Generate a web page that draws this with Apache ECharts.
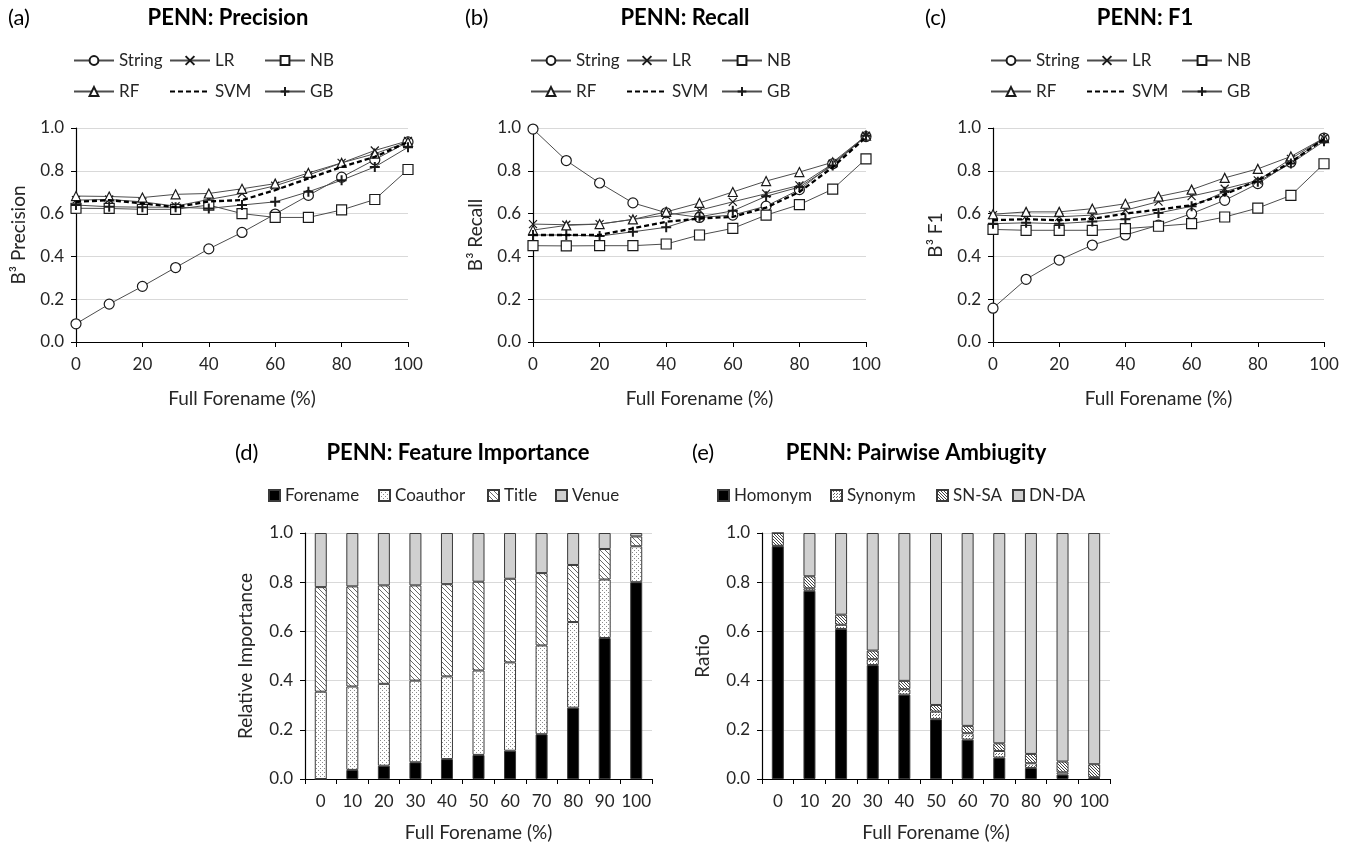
<!DOCTYPE html>
<html>
<head>
<meta charset="utf-8">
<script src="https://cdn.jsdelivr.net/npm/echarts@6/dist/echarts.min.js"></script>
<style>
  html, body { margin: 0; padding: 0; background: #fff; }
  #main { width: 1351px; height: 846px; }
</style>
</head>
<body>
<div id="main"></div>
<script>
  // x values (Full Forename %)
  var xPct = [0, 10, 20, 30, 40, 50, 60, 70, 80, 90, 100]
  var pctLabels = ['0', '10', '20', '30', '40', '50', '60', '70', '80', '90', '100']

  // (a) precision
  var precString = [0.085, 0.177, 0.26, 0.348, 0.435, 0.512, 0.598, 0.685, 0.77, 0.852, 0.935]
  var precLR = [0.663, 0.666, 0.655, 0.635, 0.666, 0.694, 0.73, 0.78, 0.837, 0.895, 0.94]
  var precNB = [0.625, 0.624, 0.62, 0.62, 0.64, 0.6, 0.582, 0.582, 0.617, 0.666, 0.806]
  var precRF = [0.682, 0.68, 0.675, 0.69, 0.694, 0.716, 0.74, 0.79, 0.837, 0.88, 0.935]
  var precSVM = [0.655, 0.663, 0.648, 0.63, 0.657, 0.663, 0.71, 0.764, 0.818, 0.865, 0.935]
  var precGB = [0.64, 0.632, 0.63, 0.63, 0.624, 0.64, 0.655, 0.702, 0.756, 0.818, 0.91]

  // (b) recall
  var recString = [0.995, 0.848, 0.743, 0.65, 0.604, 0.582, 0.593, 0.635, 0.712, 0.833, 0.96]
  var recLR = [0.551, 0.548, 0.551, 0.573, 0.593, 0.616, 0.655, 0.693, 0.732, 0.833, 0.964]
  var recNB = [0.45, 0.449, 0.45, 0.45, 0.458, 0.5, 0.531, 0.593, 0.642, 0.714, 0.856]
  var recRF = [0.523, 0.545, 0.551, 0.573, 0.608, 0.65, 0.701, 0.752, 0.794, 0.84, 0.964]
  var recSVM = [0.5, 0.5, 0.5, 0.531, 0.562, 0.577, 0.585, 0.628, 0.701, 0.817, 0.957]
  var recGB = [0.5, 0.5, 0.495, 0.515, 0.536, 0.585, 0.613, 0.681, 0.724, 0.825, 0.964]

  // (c) F1
  var f1String = [0.158, 0.293, 0.383, 0.453, 0.5, 0.546, 0.6, 0.662, 0.74, 0.84, 0.953]
  var f1LR = [0.593, 0.588, 0.585, 0.593, 0.616, 0.656, 0.682, 0.716, 0.755, 0.856, 0.953]
  var f1NB = [0.526, 0.522, 0.522, 0.522, 0.53, 0.541, 0.553, 0.584, 0.626, 0.685, 0.833]
  var f1RF = [0.597, 0.608, 0.608, 0.623, 0.646, 0.68, 0.712, 0.767, 0.809, 0.867, 0.953]
  var f1SVM = [0.569, 0.574, 0.569, 0.575, 0.6, 0.619, 0.639, 0.69, 0.755, 0.84, 0.949]
  var f1GB = [0.553, 0.557, 0.553, 0.563, 0.574, 0.603, 0.634, 0.702, 0.749, 0.834, 0.938]

  // (d) feature importance (stacked)
  var fiForename = [0, 0.037, 0.054, 0.068, 0.081, 0.098, 0.115, 0.182, 0.29, 0.573, 0.8]
  var fiCoauthor = [0.355, 0.339, 0.333, 0.332, 0.336, 0.343, 0.359, 0.361, 0.348, 0.238, 0.146]
  var fiTitle = [0.425, 0.407, 0.4, 0.387, 0.375, 0.361, 0.34, 0.294, 0.232, 0.124, 0.04]
  var fiVenue = [0.22, 0.217, 0.213, 0.213, 0.208, 0.198, 0.186, 0.163, 0.13, 0.065, 0.014]

  // (e) pairwise ambiguity (stacked)
  var paHomonym = [0.946, 0.765, 0.61, 0.463, 0.343, 0.243, 0.16, 0.087, 0.045, 0.018, 0.003]
  var paSynonym = [0.002, 0.01, 0.017, 0.024, 0.022, 0.031, 0.026, 0.027, 0.019, 0.009, 0.004]
  var paSNSA = [0.052, 0.049, 0.041, 0.035, 0.034, 0.027, 0.03, 0.031, 0.038, 0.044, 0.053]
  var paDNDA = [0, 0.176, 0.332, 0.478, 0.601, 0.699, 0.784, 0.855, 0.898, 0.929, 0.94]

  var FONT = 'Lato, "Open Sans", sans-serif'
  var TXT = '#262626'

  function pattern(size, draw) {
    var c = document.createElement('canvas')
    c.width = size
    c.height = size
    var g = c.getContext('2d')
    g.fillStyle = '#fff'
    g.fillRect(0, 0, size, size)
    draw(g)
    return { image: c, repeat: 'repeat' }
  }
  var dotFill = pattern(4, function (g) {
    g.fillStyle = '#8a8a8a'
    g.fillRect(0, 0, 1, 1)
    g.fillRect(2, 2, 1, 1)
  })
  var dotFillDark = pattern(3, function (g) {
    g.fillStyle = '#666'
    g.fillRect(0, 0, 1, 1)
    g.fillRect(2, 1, 1, 1)
  })
  var hatchFill = pattern(5, function (g) {
    g.fillStyle = '#6a6a6a'
    for (var i = 0; i < 5; i++) g.fillRect(i, i, 1, 1)
  })
  var hatchFillDense = pattern(3, function (g) {
    g.fillStyle = '#444'
    for (var i = 0; i < 3; i++) g.fillRect(i, i, 1, 1)
  })

  function pairs(vals) {
    return xPct.map(function (x, i) { return [x, vals[i]] })
  }

  var methods = [
    { name: 'String', symbol: 'circle', size: 10 },
    { name: 'LR', symbol: 'path://M0,0L10,10M10,0L0,10', size: 8 },
    { name: 'NB', symbol: 'rect', size: 10 },
    { name: 'RF', symbol: 'triangle', size: 9 },
    { name: 'SVM', symbol: 'none', size: 0 },
    { name: 'GB', symbol: 'path://M5,0L5,10M0,5L10,5', size: 10 }
  ]

  var panels = [
    { tag: '(a)', title: 'PENN: Precision', yName: 'B³ Precision', left: 76, width: 332,
      data: [precString, precLR, precNB, precRF, precSVM, precGB] },
    { tag: '(b)', title: 'PENN: Recall', yName: 'B³ Recall', left: 533, width: 333,
      data: [recString, recLR, recNB, recRF, recSVM, recGB] },
    { tag: '(c)', title: 'PENN: F1', yName: 'B³ F1', left: 993, width: 331,
      data: [f1String, f1LR, f1NB, f1RF, f1SVM, f1GB] }
  ]

  var chart = echarts.init(document.getElementById('main'))

  var grids = [], xAxes = [], yAxes = [], series = [], legends = [], graphics = []

  function yAxisCfg(idx, name, gap) {
    return {
      gridIndex: idx,
      type: 'value',
      min: 0,
      max: 1,
      interval: 0.2,
      name: name,
      nameLocation: 'middle',
      nameGap: gap,
      nameTextStyle: { fontFamily: FONT, fontSize: 19, color: TXT },
      axisLine: { show: true, lineStyle: { color: '#000', width: 1.2 } },
      axisTick: { show: true, length: 5, lineStyle: { color: '#000' } },
      axisLabel: {
        margin: 12, fontFamily: FONT, fontSize: 17, color: TXT,
        formatter: function (v) { return v.toFixed(1) }
      },
      splitLine: { show: true, lineStyle: { color: '#d9d9d9', width: 1.2 } }
    }
  }

  function addText(x, y, text, bold, size, align) {
    graphics.push({
      type: 'text',
      x: x,
      y: y,
      style: {
        text: text,
        font: (bold ? 'bold ' : '') + size + 'px ' + FONT,
        fill: '#000',
        align: align,
        textAlign: align,
        verticalAlign: 'middle',
        textVerticalAlign: 'middle'
      }
    })
  }

  var legendCols = [-3, 93, 188]
  var legendRows = [52, 83]

  panels.forEach(function (p, pi) {
    grids.push({ left: p.left, width: p.width, top: 128, height: 214 })
    xAxes.push({
      gridIndex: pi,
      type: 'value',
      min: 0,
      max: 100,
      interval: 20,
      name: 'Full Forename (%)',
      nameLocation: 'middle',
      nameGap: 47,
      nameTextStyle: { fontFamily: FONT, fontSize: 19, color: TXT },
      axisLine: { show: true, onZero: false, lineStyle: { color: '#000', width: 1.2 } },
      axisTick: { show: true, length: 5, lineStyle: { color: '#000' } },
      axisLabel: { margin: 14, fontFamily: FONT, fontSize: 17, color: TXT },
      splitLine: { show: false }
    })
    yAxes.push(yAxisCfg(pi, p.yName, 48))

    methods.forEach(function (m, mi) {
      var isSvm = m.name === 'SVM'
      var isGb = m.name === 'GB'
      series.push({
        name: m.name,
        type: 'line',
        xAxisIndex: pi,
        yAxisIndex: pi,
        data: pairs(p.data[mi]),
        symbol: m.symbol,
        symbolSize: m.size,
        showAllSymbol: true,
        z: isSvm ? 3 : 2,
        lineStyle: isSvm
          ? { color: '#000', width: 2.3, type: [5, 3] }
          : { color: '#4d4d4d', width: 1 },
        itemStyle: {
          color: '#fff',
          borderColor: '#1a1a1a',
          borderWidth: isGb ? 2 : 1.2
        },
        emphasis: { disabled: true },
        animation: false
      })
      // SVM has no marker: hide the legend's fallback symbol
      var item = isSvm ? { name: m.name, itemStyle: { opacity: 0 } } : { name: m.name }
      legends.push({
        data: [item],
        left: p.left + legendCols[mi % 3],
        top: legendRows[Math.floor(mi / 3)],
        padding: 0,
        itemWidth: 40,
        itemHeight: 11,
        itemGap: 0,
        selectedMode: false,
        textStyle: { fontFamily: FONT, fontSize: 17, color: TXT }
      })
    })

    addText(p.left - 68, 18, p.tag, false, 22, 'left')
    addText(p.left + 152, 18, p.title, true, 22, 'center')
  })

  var barPanels = [
    { tag: '(d)', title: 'PENN: Feature Importance', yName: 'Relative Importance', left: 305, width: 347,
      titleX: 458, stack: 'fi',
      names: ['Forename', 'Coauthor', 'Title', 'Venue'],
      data: [fiForename, fiCoauthor, fiTitle, fiVenue],
      fills: ['#000', dotFill, hatchFill, '#d0d0d0'],
      legendX: [268, 378, 487, 555] },
    { tag: '(e)', title: 'PENN: Pairwise Ambiugity', yName: 'Ratio', left: 762, width: 348,
      titleX: 916, stack: 'pa',
      names: ['Homonym', 'Synonym', 'SN-SA', 'DN-DA'],
      data: [paHomonym, paSynonym, paSNSA, paDNDA],
      fills: ['#000', dotFillDark, hatchFillDense, '#d0d0d0'],
      legendX: [717, 830, 936, 1012] }
  ]

  barPanels.forEach(function (p, bi) {
    var gi = panels.length + bi
    grids.push({ left: p.left, width: p.width, top: 533, height: 246 })
    xAxes.push({
      gridIndex: gi,
      type: 'category',
      data: pctLabels,
      name: 'Full Forename (%)',
      nameLocation: 'middle',
      nameGap: 44,
      nameTextStyle: { fontFamily: FONT, fontSize: 19, color: TXT },
      axisLine: { show: true, lineStyle: { color: '#000', width: 1.2 } },
      axisTick: { show: true, interval: 0, length: 5, lineStyle: { color: '#000' } },
      axisLabel: { interval: 0, margin: 14, fontFamily: FONT, fontSize: 17, color: TXT }
    })
    yAxes.push(yAxisCfg(gi, p.yName, 50))

    p.names.forEach(function (n, si) {
      series.push({
        name: n,
        type: 'bar',
        xAxisIndex: gi,
        yAxisIndex: gi,
        stack: p.stack,
        barWidth: 12,
        data: p.data[si],
        itemStyle: { color: p.fills[si], borderColor: '#3a3a3a', borderWidth: 1 },
        emphasis: { disabled: true },
        animation: false
      })
      legends.push({
        data: [{ name: n, icon: 'rect' }],
        left: p.legendX[si],
        top: 487,
        padding: 0,
        itemWidth: 11,
        itemHeight: 11,
        itemGap: 0,
        selectedMode: false,
        textStyle: { fontFamily: FONT, fontSize: 17, color: TXT }
      })
    })

    addText(p.left - 70, 453, p.tag, false, 22, 'left')
    addText(p.titleX, 453, p.title, true, 22, 'center')
  })

  chart.setOption({
    backgroundColor: '#fff',
    animation: false,
    grid: grids,
    xAxis: xAxes,
    yAxis: yAxes,
    legend: legends,
    series: series,
    graphic: graphics
  })
</script>
</body>
</html>
